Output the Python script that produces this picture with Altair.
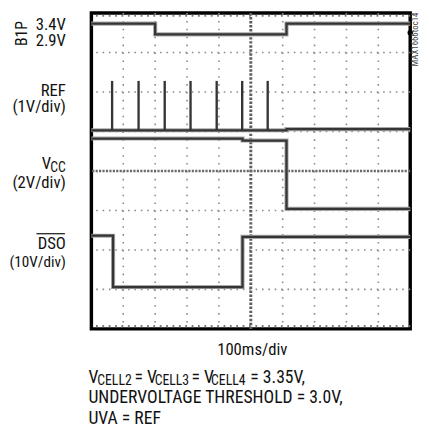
import altair as alt
import pandas as pd

# ---- data (time in ms, 100 ms/div; vertical position in screen divisions 0..8) ----
b1p_t = [0, 200, 200, 612, 612, 1000]
b1p_v = [7.73, 7.73, 7.46, 7.46, 7.73, 7.73]

ref_t = [0, 612, 612, 1000]
ref_v = [5.03, 5.03, 5.06, 5.06]
ref_spike_t = [65, 148, 230, 311, 393, 473, 553]
ref_spike_base = [5.03, 5.03, 5.03, 5.03, 5.03, 5.03, 5.03]
ref_spike_top = [6.28, 6.28, 6.28, 6.28, 6.28, 6.28, 6.28]

vcc_t = [0, 474, 474, 612, 612, 1000]
vcc_v = [4.82, 4.82, 4.77, 4.77, 3.04, 3.04]

dso_t = [0, 68, 68, 474, 474, 1000]
dso_v = [2.36, 2.36, 1.06, 1.06, 2.33, 2.33]

grid_t = [100, 200, 300, 400, 600, 700, 800, 900]
grid_v = [1, 2, 3, 5, 6, 7]
center_t = [500]
center_v = [4]
edge_v = [0.07, 7.93]
marker_t = [1000]
marker_v = [7.5]

FONT = "Liberation Sans Narrow, Arial Narrow, Roboto Condensed, Liberation Sans"
TRACE = "#353535"
BIG = 18
LEFT = 17
SUB = 14

def trace_df(name, t, v):
    return pd.DataFrame({"trace": name, "t": t, "v": v, "i": list(range(len(t)))})

traces = pd.concat([
    trace_df("B1P", b1p_t, b1p_v),
    trace_df("REF", ref_t, ref_v),
    trace_df("VCC", vcc_t, vcc_v),
    trace_df("DSO", dso_t, dso_v),
])
spikes = pd.DataFrame({"t": ref_spike_t, "b": ref_spike_base, "top": ref_spike_top})

xs = alt.Scale(domain=[0, 1000], nice=False, zero=False)
ys = alt.Scale(domain=[0, 8], nice=False, zero=False)

gx = alt.Chart(pd.DataFrame({"t": grid_t})).mark_rule(
    color="#8a8a8a", strokeWidth=1.6, strokeDash=[1.6, 6.45]
).encode(x=alt.X("t:Q", scale=xs, axis=None))
gy = alt.Chart(pd.DataFrame({"v": grid_v})).mark_rule(
    color="#8a8a8a", strokeWidth=1.6, strokeDash=[1.6, 4.9]
).encode(y=alt.Y("v:Q", scale=ys, axis=None))
edge = alt.Chart(pd.DataFrame({"v": edge_v})).mark_rule(
    color="#7a7a7a", strokeWidth=2.2, strokeDash=[1.8, 4.7]
).encode(y=alt.Y("v:Q", scale=ys, axis=None))
cx = alt.Chart(pd.DataFrame({"t": center_t})).mark_rule(
    color="#5e5e5e", strokeWidth=3, strokeDash=[2.5, 1.6]
).encode(x=alt.X("t:Q", scale=xs, axis=None))
cy = alt.Chart(pd.DataFrame({"v": center_v})).mark_rule(
    color="#6a6a6a", strokeWidth=2.6, strokeDash=[2.2, 1.3]
).encode(y=alt.Y("v:Q", scale=ys, axis=None))

halo = alt.Chart(traces).mark_line(color="#a8a8a8", strokeWidth=4.2).encode(
    x=alt.X("t:Q", scale=xs, axis=None),
    y=alt.Y("v:Q", scale=ys, axis=None),
    detail="trace:N",
    order="i:Q",
)
lines = alt.Chart(traces).mark_line(color=TRACE, strokeWidth=2.3).encode(
    x=alt.X("t:Q", scale=xs, axis=None),
    y=alt.Y("v:Q", scale=ys, axis=None),
    detail="trace:N",
    order="i:Q",
)
spk = alt.Chart(spikes).mark_rule(color=TRACE, strokeWidth=2.4).encode(
    x=alt.X("t:Q", scale=xs, axis=None),
    y=alt.Y("b:Q", scale=ys, axis=None),
    y2="top:Q",
)
marker = alt.Chart(pd.DataFrame({"t": marker_t, "v": marker_v})).mark_point(
    filled=True, color="black", size=30, opacity=1
).encode(x=alt.X("t:Q", scale=xs, axis=None), y=alt.Y("v:Q", scale=ys, axis=None))

one = alt.Data(values=[{"a": 1}])

def label(text, x, y, size=BIG, align="right", angle=0, color="#111", baseline="alphabetic"):
    kw = dict(text=text, align=align, baseline=baseline, fontSize=size, font=FONT, color=color)
    if angle:
        kw["angle"] = angle
    return alt.Chart(one).mark_text(**kw).encode(x=alt.value(x), y=alt.value(y))

labels = [
    label("3.4V", -26, 17, size=LEFT),
    label("2.9V", -26, 34, size=LEFT),
    label("B1P", -71, 21, size=16, align="center", angle=270, baseline="middle"),
    label("REF", -26, 85, size=LEFT),
    label("(1V/div)", -26, 101, size=LEFT),
    label("V", -41, 159, size=LEFT),
    label("CC", -26, 162, size=SUB),
    label("(2V/div)", -26, 178, size=LEFT),
    label("DSO", -26, 241, size=LEFT),
    label("(10V/div)", -26, 259, size=15.5),
    label("MAX1666toc14", 330, 27, size=9, align="center", angle=270, color="#444", baseline="middle"),
    label("100ms/div", 164, 349, size=17, align="center"),
    label("V", -3, 377, align="left"),
    label("CELL2", 6, 379, size=SUB, align="left"),
    label("= V", 44, 377, align="left"),
    label("CELL3", 64.5, 379, size=SUB, align="left"),
    label("= V", 102, 377, align="left"),
    label("CELL4", 122, 379, size=SUB, align="left"),
    label("= 3.35V,", 162, 377, align="left"),
    label("UNDERVOLTAGE THRESHOLD = 3.0V,", -3, 398, align="left"),
    label("UVA = REF", -3, 419, align="left"),
]

overline = alt.Chart(one).mark_rule(color="#111", strokeWidth=1.2).encode(
    x=alt.value(-56), x2=alt.value(-27), y=alt.value(225)
)

chart = alt.layer(
    gx, gy, edge, cx, cy, halo, lines, spk, marker, overline, *labels
).properties(
    width=325,
    height=322,
    autosize=alt.AutoSizeParams(type="none"),
    padding={"left": 85, "top": 1, "right": 11, "bottom": 100},
    background="white",
).configure_view(stroke="black", strokeWidth=3.5)

chart.save("out.html", embed_options={"renderer": "svg", "actions": False})
